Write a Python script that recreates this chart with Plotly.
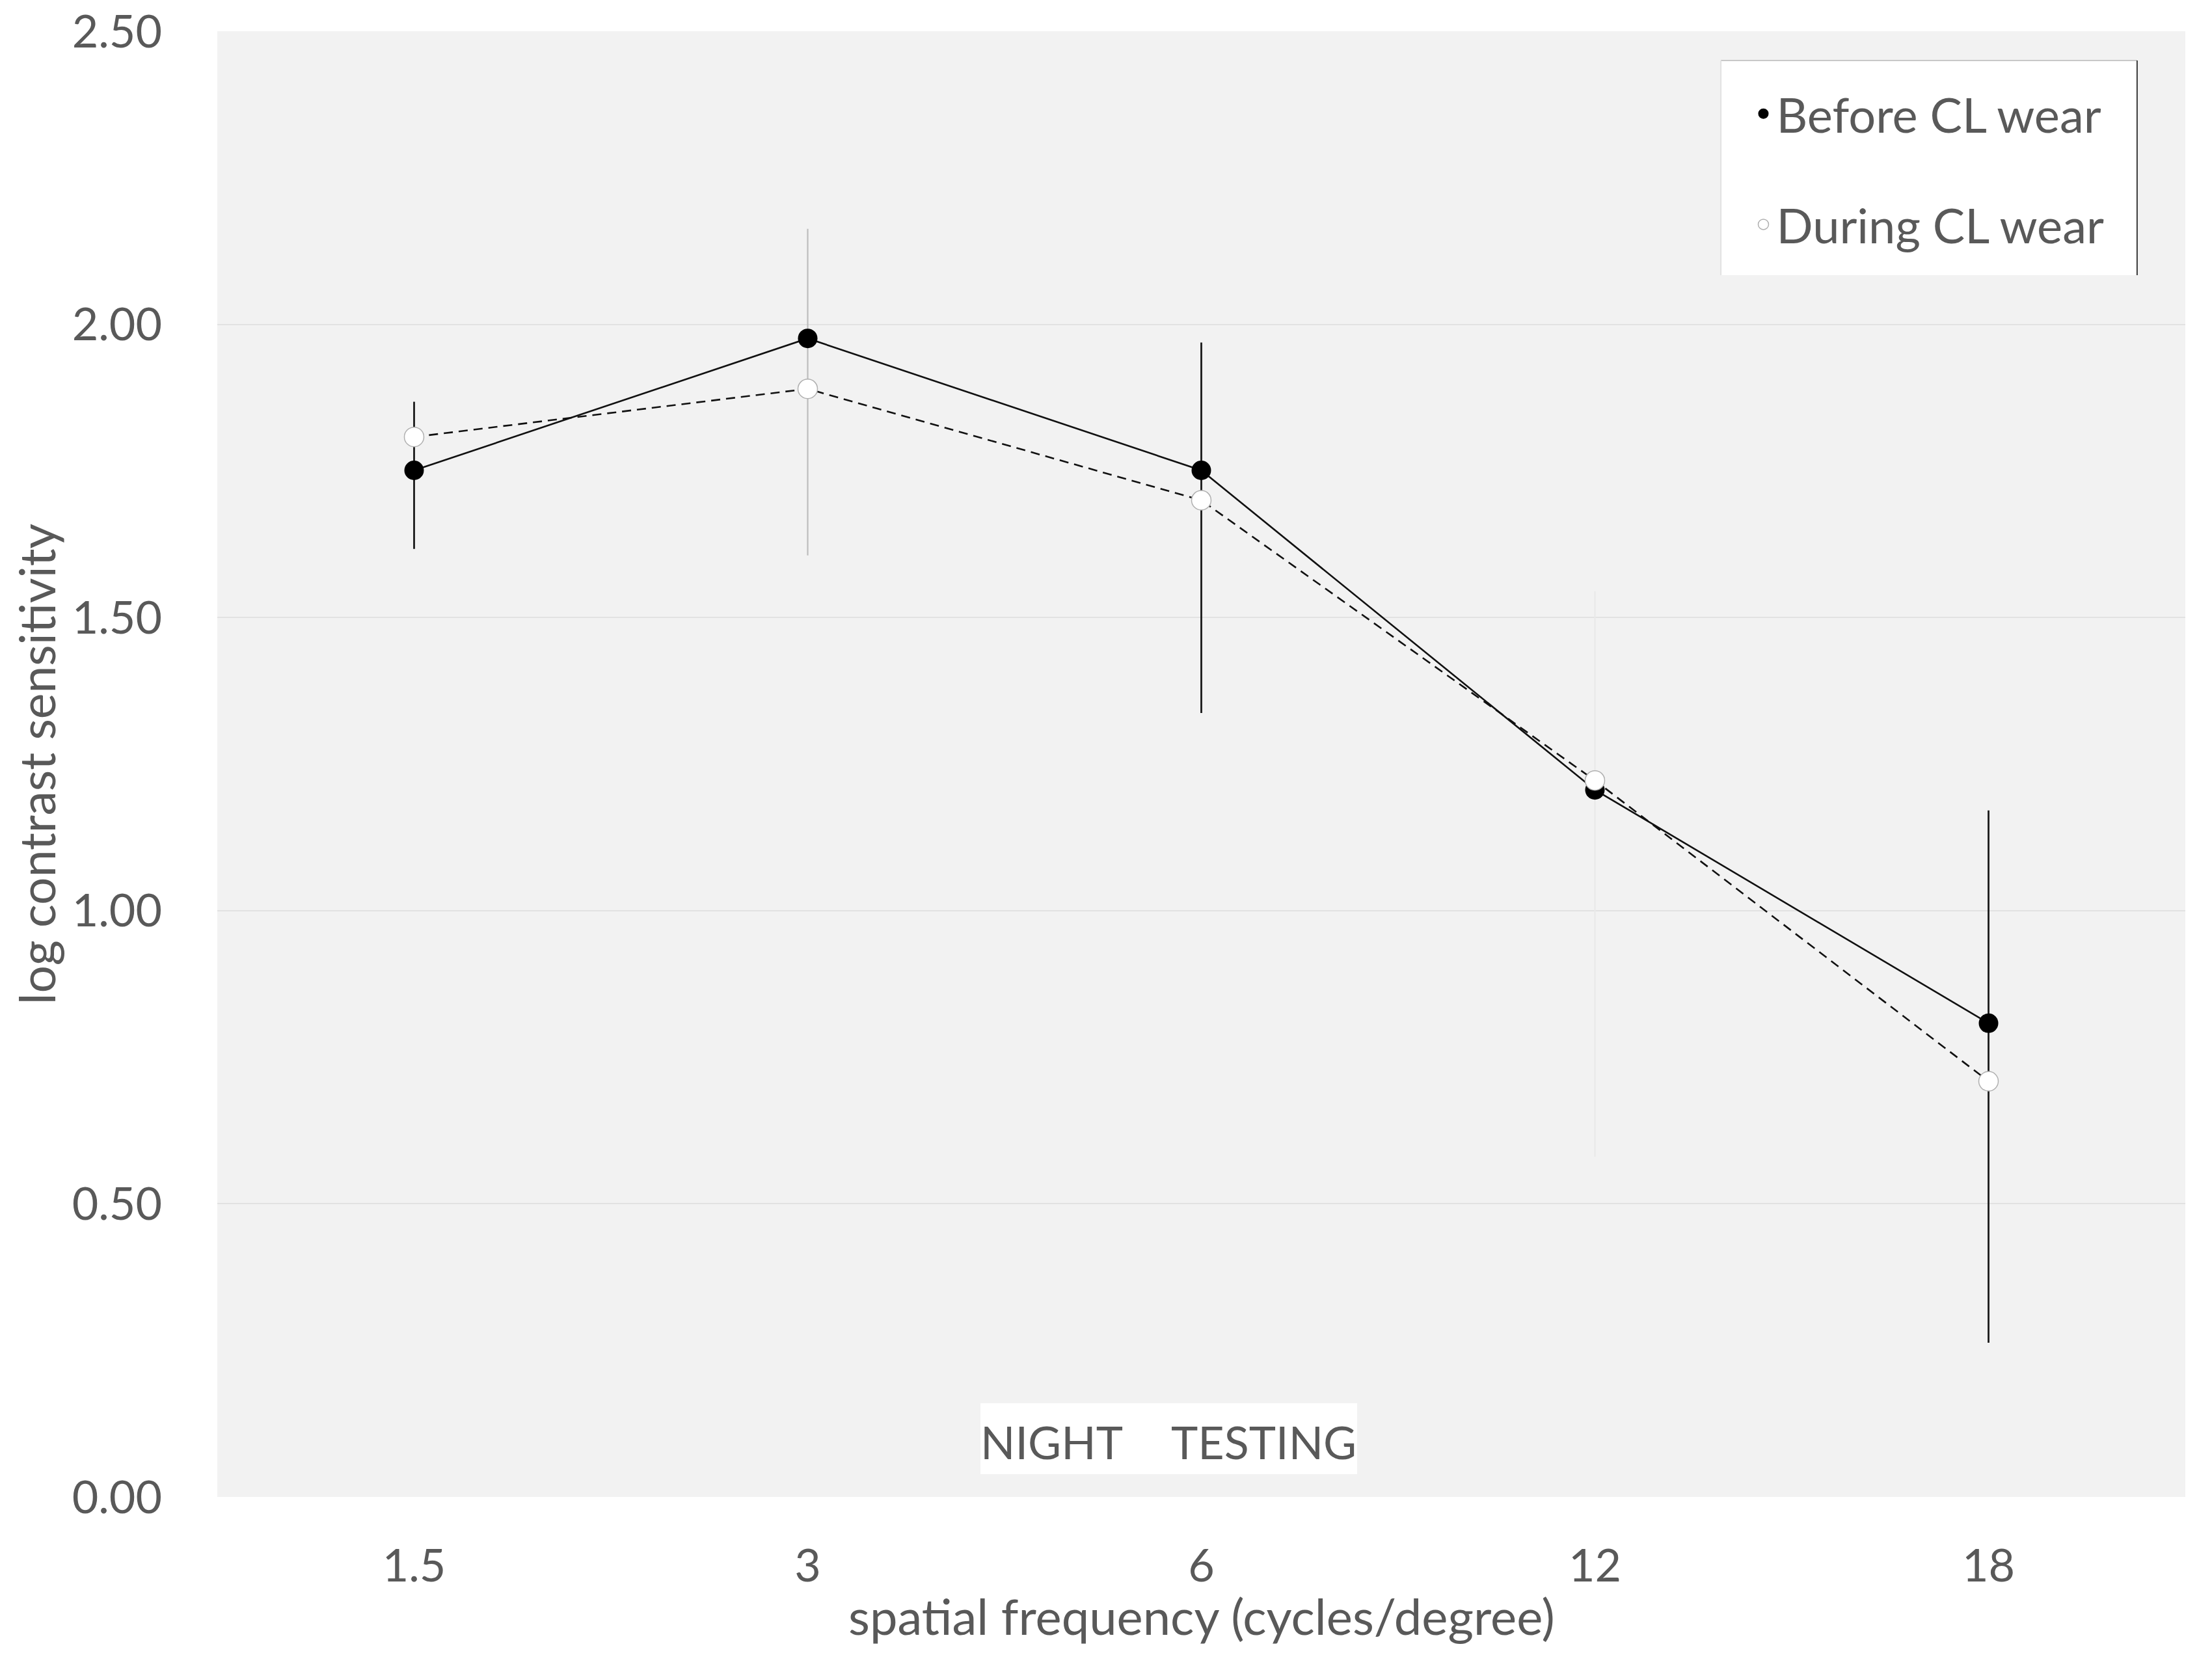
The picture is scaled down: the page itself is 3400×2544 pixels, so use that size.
import plotly.graph_objects as go

# ---------------- data ----------------
freq_labels = ["1.5", "3", "6", "12", "18"]
before_cl = [1.751, 1.976, 1.751, 1.206, 0.808]
during_cl = [1.808, 1.890, 1.700, 1.222, 0.709]

before_err_up = [0.117, 0.0, 0.218, 0.0, 0.363]
before_err_down = [0.134, 0.0, 0.414, 0.0, 0.545]
during_err_up = [0.0, 0.273, 0.0, 0.323, 0.0]
during_err_down = [0.0, 0.284, 0.0, 0.642, 0.0]

y_ticks = [0.0, 0.5, 1.0, 1.5, 2.0, 2.5]

FONT = "Lato, Calibri, Carlito, 'Open Sans', sans-serif"
TXT = "#595959"

fig = go.Figure()


def err_trace(values, up, down, color, width, idx):
    fig.add_trace(go.Scatter(
        x=[freq_labels[i] for i in idx],
        y=[values[i] for i in idx],
        mode="markers",
        marker=dict(size=1, color="rgba(0,0,0,0)"),
        error_y=dict(type="data", symmetric=False,
                     array=[up[i] for i in idx],
                     arrayminus=[down[i] for i in idx],
                     color=color, thickness=width, width=0),
        showlegend=False, hoverinfo="skip"))


# error bars first (drawn beneath markers)
err_trace(before_cl, before_err_up, before_err_down, "#1a1a1a", 2.8,
          [i for i in range(len(freq_labels)) if before_err_up[i] or before_err_down[i]])
err_trace(during_cl, during_err_up, during_err_down, "#bdbdbd", 2.2, [1])
err_trace(during_cl, during_err_up, during_err_down, "#e9e9e9", 2.2, [3])

# main series
fig.add_trace(go.Scatter(
    x=freq_labels, y=before_cl, mode="lines+markers",
    line=dict(color="#111111", width=2.6),
    marker=dict(size=30, color="#000000", line=dict(width=0)),
    showlegend=False))
fig.add_trace(go.Scatter(
    x=freq_labels, y=during_cl, mode="lines+markers",
    line=dict(color="#111111", width=2.6, dash="14px,9px"),
    marker=dict(size=30, color="#ffffff", line=dict(width=1.5, color="#b0b0b0")),
    showlegend=False))

# legend-only entries
fig.add_trace(go.Scatter(
    x=[None], y=[None], mode="markers", name="Before CL wear",
    legendgroup="a",
    marker=dict(size=30, color="#000000", line=dict(width=0))))
fig.add_trace(go.Scatter(
    x=[None], y=[None], mode="markers", name="During CL wear",
    legendgroup="b",
    marker=dict(size=30, color="#ffffff", line=dict(width=1.5, color="#b0b0b0"))))

shapes = [
    # legend box
    dict(type="rect", xref="paper", yref="paper", x0=0.764, x1=0.9755, y0=0.8336, y1=0.980,
         fillcolor="#ffffff", line=dict(width=0), layer="above"),
    dict(type="line", xref="paper", yref="paper", x0=0.764, x1=0.9755, y0=0.980, y1=0.980,
         line=dict(color="#c8c8c8", width=2), layer="above"),
    dict(type="line", xref="paper", yref="paper", x0=0.9755, x1=0.9755, y0=0.8336, y1=0.980,
         line=dict(color="#3a3a3a", width=2), layer="above"),
    dict(type="line", xref="paper", yref="paper", x0=0.764, x1=0.764, y0=0.8336, y1=0.980,
         line=dict(color="#e2e2e2", width=2), layer="above"),
    # NIGHT TESTING box
    dict(type="rect", xref="paper", yref="paper", x0=0.3878, x1=0.5792, y0=0.0155, y1=0.0639,
         fillcolor="#ffffff", line=dict(width=0), layer="above"),
]

annotations = [
    dict(text="NIGHT", xref="paper", yref="paper", x=0.4241, y=0.0377,
         showarrow=False, xanchor="center", yanchor="middle",
         font=dict(family=FONT, size=70, color=TXT)),
    dict(text="TESTING", xref="paper", yref="paper", x=0.5316, y=0.0377,
         showarrow=False, xanchor="center", yanchor="middle",
         font=dict(family=FONT, size=70, color=TXT)),
    # x-axis title
    dict(text="spatial frequency (cycles/degree)", xref="paper", yref="paper",
         x=0.5, y=-0.0808, showarrow=False, xanchor="center", yanchor="middle",
         font=dict(family=FONT, size=76, color=TXT)),
]

fig.update_layout(
    width=3400, height=2544,
    margin=dict(l=326, r=49, t=40, b=251),
    paper_bgcolor="#ffffff",
    plot_bgcolor="#f2f2f2",
    font=dict(family=FONT, size=70, color=TXT),
    shapes=shapes,
    annotations=annotations,
    legend=dict(
        x=0.779, y=0.968, xanchor="left", yanchor="top",
        bgcolor="rgba(0,0,0,0)", borderwidth=0,
        font=dict(family=FONT, size=74, color=TXT),
        traceorder="grouped", tracegroupgap=71,
        itemwidth=30,
    ),
    xaxis=dict(
        type="category", categoryorder="array", categoryarray=freq_labels,
        range=[-0.5, 4.5],
        showgrid=False, zeroline=False, showline=False,
        ticks="outside", ticklen=45, tickcolor="rgba(0,0,0,0)",
        tickfont=dict(family=FONT, size=70, color=TXT),
        automargin=False,
    ),
    yaxis=dict(
        range=[0, 2.5], tickvals=y_ticks, tickformat=".2f",
        ticklabeloverflow="allow",
        showgrid=True, gridcolor="#e2e2e2", gridwidth=2,
        zeroline=False, showline=False,
        ticks="outside", ticklen=70, tickcolor="rgba(0,0,0,0)",
        tickfont=dict(family=FONT, size=70, color=TXT),
        title=dict(text="log contrast sensitivity", standoff=0,
                   font=dict(family=FONT, size=75, color=TXT)),
        automargin=False,
    ),
)

fig.write_html("out.html")
